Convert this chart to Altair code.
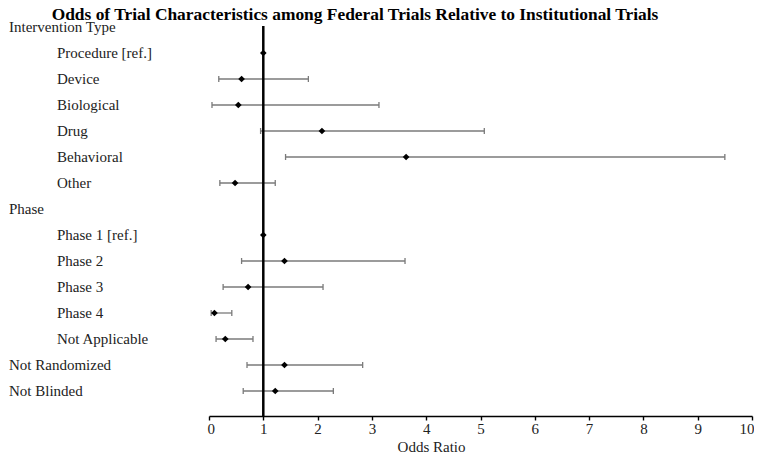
import altair as alt
import pandas as pd

labels = ["Intervention Type", "Procedure [ref.]", "Device", "Biological", "Drug",
          "Behavioral", "Other", "Phase", "Phase 1 [ref.]", "Phase 2", "Phase 3",
          "Phase 4", "Not Applicable", "Not Randomized", "Not Blinded"]
indent = [0, 1, 1, 1, 1, 1, 1, 0, 1, 1, 1, 1, 1, 0, 0]
odds = [None, 1.0, 0.60, 0.54, 2.08, 3.63, 0.48, None, 1.0, 1.39, 0.72, 0.10, 0.30, 1.39, 1.22]
lower = [None, None, 0.18, 0.055, 0.95, 1.41, 0.20, None, None, 0.60, 0.26, 0.04, 0.13, 0.70, 0.63]
upper = [None, None, 1.83, 3.13, 5.07, 9.50, 1.22, None, None, 3.61, 2.10, 0.42, 0.81, 2.83, 2.29]
x_ticks = list(range(0, 11))

title_text = "Odds of Trial Characteristics among Federal Trials Relative to Institutional Trials"

df = pd.DataFrame({
    "row": list(range(len(labels))),
    "label": labels,
    "indent": indent,
    "or": odds,
    "lo": lower,
    "hi": upper,
})

W, H = 543, 396
SERIF = "Liberation Serif"
TXT = "#222222"

xscale = alt.Scale(domain=[0, 10], nice=False, zero=False)
# rows 26 px apart, row 0 sits 7 px below the plot top
yscale = alt.Scale(domain=[-7 / 26, (H - 7) / 26], reverse=True, nice=False, zero=False)

base = alt.Chart(df)

y_enc = alt.Y("row:Q", scale=yscale, axis=None)

ci = base.transform_filter("isValid(datum.lo)").mark_rule(
    color="#7a7a7a", strokeWidth=1.3
).encode(
    x=alt.X("lo:Q", scale=xscale,
            axis=alt.Axis(values=x_ticks, title="Odds Ratio", grid=False,
                          domainColor="black", domainWidth=1.6,
                          tickColor="black", tickWidth=1.4, tickSize=4,
                          labelFont=SERIF, labelFontSize=15, labelColor=TXT,
                          labelPadding=1, labelFlush=True, labelFlushOffset=2,
                          titleFont=SERIF, titleFontSize=15, titleFontWeight="normal",
                          titleColor=TXT, titleX=222, titleY=35,
                          titleBaseline="alphabetic", titleAlign="center")),
    x2="hi:Q",
    y=y_enc,
)

cap_lo = base.transform_filter("isValid(datum.lo)").mark_point(
    shape="M0,-1L0,1", size=36, color="#7a7a7a", strokeWidth=1.3, filled=False, opacity=1
).encode(x=alt.X("lo:Q", scale=xscale), y=y_enc)

cap_hi = base.transform_filter("isValid(datum.hi)").mark_point(
    shape="M0,-1L0,1", size=36, color="#7a7a7a", strokeWidth=1.3, filled=False, opacity=1
).encode(x=alt.X("hi:Q", scale=xscale), y=y_enc)

refline = alt.Chart(pd.DataFrame({"ref": [1.0]})).mark_rule(
    color="black", strokeWidth=2.5
).encode(x=alt.X("ref:Q", scale=xscale), y=alt.value(6), y2=alt.value(H))

pts = base.transform_filter("isValid(datum.or)").mark_point(
    shape="diamond", size=45, filled=True, color="black", opacity=1
).encode(x=alt.X("or:Q", scale=xscale), y=y_enc)

lab_head = base.transform_filter("datum.indent == 0").mark_text(
    align="left", baseline="middle", font=SERIF, fontSize=15, color=TXT
).encode(x=alt.value(-200), y=y_enc, text="label:N")

lab_ind = base.transform_filter("datum.indent == 1").mark_text(
    align="left", baseline="middle", font=SERIF, fontSize=15, color=TXT
).encode(x=alt.value(-152), y=y_enc, text="label:N")

title = alt.Chart(pd.DataFrame({"t": [title_text]})).mark_text(
    align="center", baseline="alphabetic", font=SERIF, fontSize=17.4,
    fontWeight="bold", color="black"
).encode(x=alt.value(146), y=alt.value(0), text="t:N")

chart = alt.layer(ci, cap_lo, cap_hi, refline, pts, lab_head, lab_ind, title).properties(
    width=W, height=H,
    autosize=alt.AutoSizeParams(type="none"),
    padding={"left": 201, "top": 12, "right": 2, "bottom": 38},
    background="white",
).configure_view(stroke=None)

chart.save("out.html", embed_options={"renderer": "svg", "actions": False})
